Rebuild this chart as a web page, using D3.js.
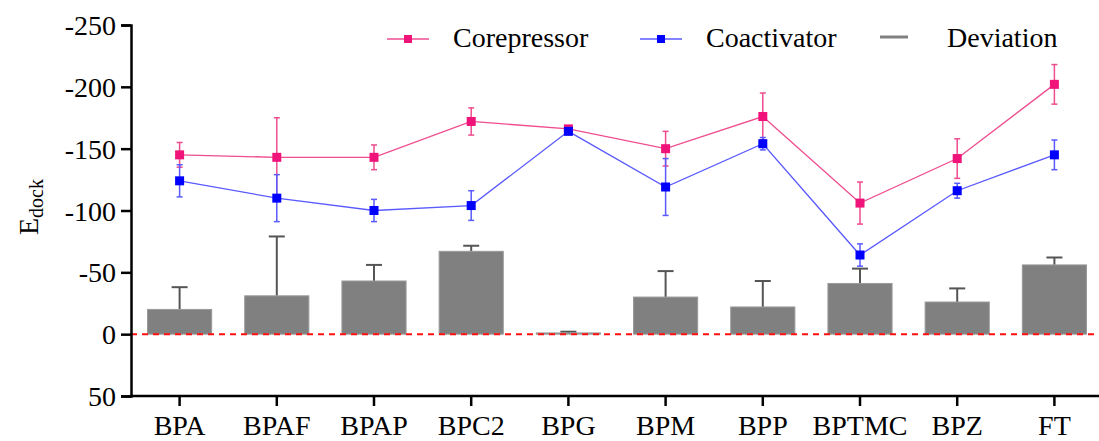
<!DOCTYPE html>
<html>
<head>
<meta charset="utf-8">
<script src="https://cdn.jsdelivr.net/npm/d3@7"></script>
<style>
  body { margin: 0; background: #fff; }
  svg { display: block; }
  text { font-family: "Liberation Serif", "Times New Roman", serif; }
</style>
</head>
<body>
<svg id="chart"></svg>
<script>
const categories = ['BPA', 'BPAF', 'BPAP', 'BPC2', 'BPG', 'BPM', 'BPP', 'BPTMC', 'BPZ', 'FT']
const corepressor = [-145, -143, -143, -172, -166, -150, -176, -106, -142, -202]
const corepressorErr = [10, 32, 10, 11, 2, 14, 19, 17, 16, 16]
const coactivator = [-124, -110, -100, -104, -164, -119, -154, -64, -116, -145]
const coactivatorErr = [13, 19, 9, 12, 2, 23, 5, 9, 6, 12]
const deviation = [-20, -31, -43, -67, -1, -30, -22, -41, -26, -56]
const deviationErr = [18, 48, 13, 4.5, 1, 21, 21, 12, 11, 6]
const yTicks = [-250, -200, -150, -100, -50, 0, 50]

const FONT = '"Liberation Serif", "Times New Roman", serif'
let width = 1099, height = 441
let svg = d3.select('#chart').attr('width', width).attr('height', height)
	.attr('font-family', FONT)

let x = d3.scaleBand()
	.domain(categories)
	.range([131, 1103])
	.paddingInner(0.34)
	.paddingOuter(0.17)
let y = d3.scaleLinear().domain([50, -250]).range([396, 25])
let cx = d => x(d) + x.bandwidth() / 2

// bars
let bars = svg.append('g')
categories.forEach((c, i) => {
	let top = y(deviation[i])
	let capY = y(deviation[i] - deviationErr[i])
	bars.append('line')
		.attr('x1', cx(c)).attr('x2', cx(c))
		.attr('y1', top).attr('y2', capY)
		.attr('stroke', '#555').attr('stroke-width', 2)
	bars.append('line')
		.attr('x1', cx(c) - 8).attr('x2', cx(c) + 8)
		.attr('y1', capY).attr('y2', capY)
		.attr('stroke', '#555').attr('stroke-width', 2)
	bars.append('rect')
		.attr('x', x(c)).attr('width', x.bandwidth())
		.attr('y', top).attr('height', y(0) - top)
		.attr('fill', '#808080').attr('stroke', '#9a9a9a').attr('stroke-width', 1)
})

// zero line
svg.append('line')
	.attr('x1', 131).attr('x2', 1099)
	.attr('y1', y(0)).attr('y2', y(0))
	.attr('stroke', '#ff1010').attr('stroke-width', 2)
	.attr('stroke-dasharray', '6,5')

function drawSeries(vals, errs, lineColor, markColor) {
	let g = svg.append('g')
	let line = d3.line().x((d, i) => cx(categories[i])).y(d => y(d))
	categories.forEach((c, i) => {
		let lo = y(vals[i] + errs[i]), hi = y(vals[i] - errs[i])
		g.append('line').attr('x1', cx(c)).attr('x2', cx(c)).attr('y1', lo).attr('y2', hi)
			.attr('stroke', lineColor).attr('stroke-width', 1.5)
		;[lo, hi].forEach(v => g.append('line')
			.attr('x1', cx(c) - 3).attr('x2', cx(c) + 3).attr('y1', v).attr('y2', v)
			.attr('stroke', lineColor).attr('stroke-width', 1.5))
	})
	g.append('path').datum(vals)
		.attr('d', line).attr('fill', 'none')
		.attr('stroke', lineColor).attr('stroke-width', 1.3)
	g.selectAll('rect.m').data(vals).enter().append('rect')
		.attr('class', 'm')
		.attr('x', (d, i) => cx(categories[i]) - 4.5)
		.attr('y', d => y(d) - 4.5)
		.attr('width', 9).attr('height', 9)
		.attr('fill', markColor)
}
drawSeries(corepressor, corepressorErr, '#ee4d8f', '#f0147a')
drawSeries(coactivator, coactivatorErr, '#5a5aff', '#0000ff')

// axes
let yAxis = svg.append('g').attr('transform', 'translate(131,0)')
	.call(d3.axisLeft(y).tickValues(yTicks).tickSize(10).tickPadding(5).tickFormat(d => String(d)))
let xAxis = svg.append('g').attr('transform', 'translate(0,396)')
	.call(d3.axisBottom(x).tickSize(10).tickPadding(10))
xAxis.select('.domain').attr('d', 'M130,0H1099')
;[yAxis, xAxis].forEach(a => {
	a.attr('font-family', FONT).attr('font-size', 28)
	a.select('.domain').attr('stroke', '#000').attr('stroke-width', 2.5)
	a.selectAll('.tick line').attr('stroke', '#000').attr('stroke-width', 2.5)
	a.selectAll('.tick text').attr('fill', '#000')
})
yAxis.selectAll('.tick text').attr('dy', '0.34em')
xAxis.selectAll('.tick text').attr('y', 39).attr('dy', 0)

// y label
let lab = svg.append('text')
	.attr('transform', 'translate(38,235) rotate(-90)')
	.attr('font-size', 28)
lab.append('tspan').text('E')
lab.append('tspan').text('dock').attr('font-size', 20).attr('dy', 5)

// legend
let legend = [
	{ name: 'Corepressor', x: 387, line: '#ee4d8f', mark: '#f0147a' },
	{ name: 'Coactivator', x: 640, line: '#5a5aff', mark: '#0000ff' }
]
legend.forEach(l => {
	svg.append('line').attr('x1', l.x).attr('x2', l.x + 42).attr('y1', 39).attr('y2', 39)
		.attr('stroke', l.line).attr('stroke-width', 1.3)
	svg.append('rect').attr('x', l.x + 17).attr('y', 35).attr('width', 8).attr('height', 8)
		.attr('fill', l.mark)
	svg.append('text').attr('x', l.x + 66).attr('y', 47).attr('font-size', 28).text(l.name)
})
svg.append('line').attr('x1', 880).attr('x2', 908).attr('y1', 37).attr('y2', 37)
	.attr('stroke', '#808080').attr('stroke-width', 3)
svg.append('text').attr('x', 947).attr('y', 47).attr('font-size', 28).text('Deviation')
</script>
</body>
</html>
